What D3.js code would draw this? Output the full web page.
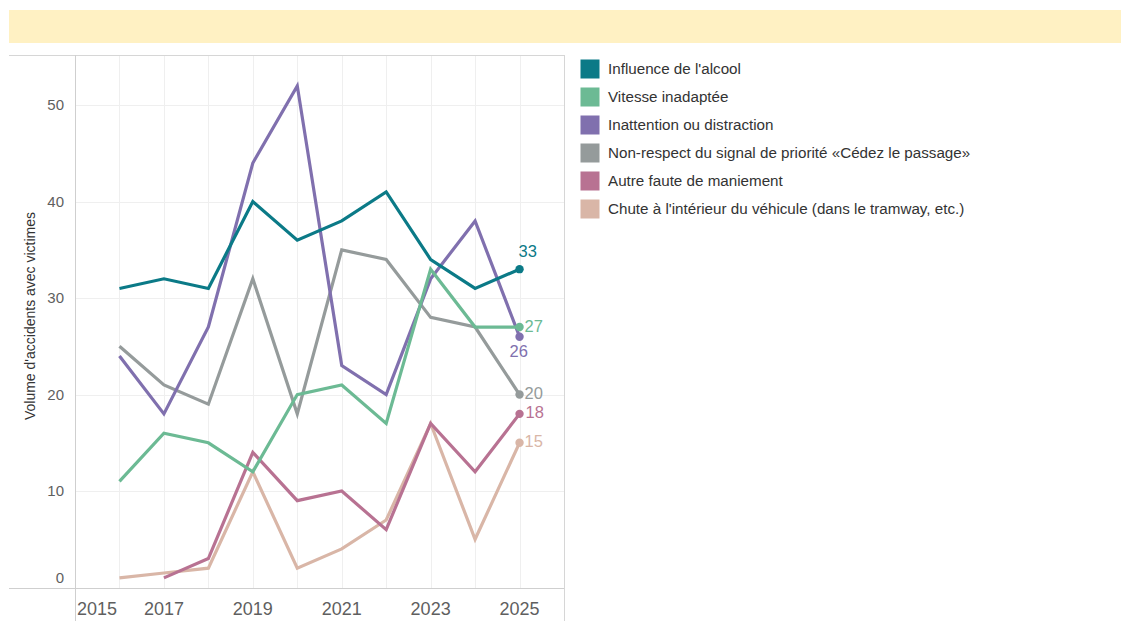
<!DOCTYPE html>
<html><head><meta charset="utf-8">
<script src="https://cdn.jsdelivr.net/npm/d3@7"></script>
<style>
html,body{margin:0;padding:0;background:#fff;}
svg{display:block;font-family:Arial,"Liberation Sans",sans-serif;}
</style></head>
<body>
<svg id="chart" width="1121" height="621"></svg>
<script>
const years = [2016,2017,2018,2019,2020,2021,2022,2023,2024,2025];
const seriesNames = [
  "Influence de l'alcool",
  "Vitesse inadaptée",
  "Inattention ou distraction",
  "Non-respect du signal de priorité «Cédez le passage»",
  "Autre faute de maniement",
  "Chute à l'intérieur du véhicule (dans le tramway, etc.)"
];
const seriesColors = ["#0b7a87","#6cba94","#8070ae","#959b9b","#b87292","#d9b6a7"];
const alcool      = [31,32,31,40,36,38,41,34,31,33];
const vitesse     = [11,16,15,12,20,21,17,33,27,27];
const inattention = [24,18,27,44,52,23,20,32,38,26];
const nonRespect  = [25,21,19,32,18,35,34,28,27,20];
const autreFaute  = [null,1,3,14,9,10,6,17,12,18];
const chute       = [1,1.5,2,12,2,4,7,17,5,15];
const yTicks = [0,10,20,30,40,50];
const xTickLabels = [2015,2017,2019,2021,2023,2025];
const yTitle = "Volume d'accidents avec victimes";

(function(){
const allValues = [alcool,vitesse,inattention,nonRespect,autreFaute,chute];
const svg = d3.select("#chart");

// banner
svg.append("rect").attr("x",9).attr("y",10).attr("width",1112).attr("height",33).attr("fill","#fff1c3");

const pLeft = 75, pRight = 564, pTop = 55, pBottom = 588;
const x = d3.scaleLinear().domain([2015,2026]).range([pLeft,pRight]);
const y = d3.scaleLinear().domain([0,55.2]).range([pBottom-0.5,pTop]);

// grid
const g = svg.append("g");
g.selectAll(".vg").data(d3.range(2016,2026)).join("line")
  .attr("x1",d=>Math.round(x(d))+0.5).attr("x2",d=>Math.round(x(d))+0.5)
  .attr("y1",pTop).attr("y2",pBottom).attr("stroke","#efefef").attr("stroke-width",1);
g.selectAll(".hg").data(yTicks.filter(d=>d>0)).join("line")
  .attr("x1",pLeft).attr("x2",pRight)
  .attr("y1",d=>Math.round(y(d))+0.5).attr("y2",d=>Math.round(y(d))+0.5)
  .attr("stroke","#efefef").attr("stroke-width",1);

// frame lines
g.append("line").attr("x1",9).attr("x2",pRight).attr("y1",pTop+0.5).attr("y2",pTop+0.5).attr("stroke","#d6d6d6");
g.append("line").attr("x1",9).attr("x2",pRight).attr("y1",pBottom+0.5).attr("y2",pBottom+0.5).attr("stroke","#cfcfcf");
g.append("line").attr("x1",pLeft+0.5).attr("x2",pLeft+0.5).attr("y1",pTop).attr("y2",621).attr("stroke","#cfcfcf");
g.append("line").attr("x1",pRight+0.5).attr("x2",pRight+0.5).attr("y1",pTop).attr("y2",621).attr("stroke","#d6d6d6");

// y axis labels
g.selectAll(".yl").data(yTicks).join("text")
  .attr("x",64).attr("y",d=> d===0 ? y(d)-10 : y(d))
  .attr("dy","0.35em").attr("text-anchor","end")
  .attr("font-size",15).attr("fill","#5f5f5f").text(d=>d);

// x axis labels
g.selectAll(".xl").data(xTickLabels).join("text")
  .attr("x",d=> d===2015 ? x(d)+2 : x(d))
  .attr("y",615)
  .attr("text-anchor",d=> d===2015 ? "start" : "middle")
  .attr("font-size",18).attr("fill","#5f5f5f").text(d=>d);

// y title
svg.append("text").attr("transform","translate(35,316) rotate(-90)")
  .attr("text-anchor","middle").attr("font-size",14).attr("fill","#333").text(yTitle);

// lines
const line = d3.line().x(d=>x(d.year)).y(d=>y(d.v));
const series = seriesNames.map((name,i)=>({name,color:seriesColors[i],
  values: years.map((yr,j)=>({year:yr,v:allValues[i][j]})).filter(d=>d.v!==null)}));

const drawOrder = [5,4,3,2,1,0];
drawOrder.forEach(i=>{
  const s = series[i];
  svg.append("path").datum(s.values).attr("d",line)
    .attr("fill","none").attr("stroke",s.color).attr("stroke-width",3.2)
    .attr("stroke-linejoin","miter").attr("stroke-linecap","butt");
  const last = s.values[s.values.length-1];
  svg.append("circle").attr("cx",x(last.year)).attr("cy",y(last.v)).attr("r",4.2).attr("fill",s.color);
});

// end labels
const labelOffsets = [
  {dx:-1, dy:-18},
  {dx:5, dy:-1},
  {dx:-10, dy:15},
  {dx:5, dy:-1},
  {dx:6, dy:-2},
  {dx:5, dy:-2}
];
series.forEach((s,i)=>{
  const last = s.values[s.values.length-1];
  const o = labelOffsets[i];
  svg.append("text").attr("x",x(last.year)+o.dx).attr("y",y(last.v)+o.dy)
    .attr("dy","0.35em").attr("text-anchor","start")
    .attr("font-size",16.5).attr("fill",s.color).text(last.v);
});

// legend
const lg = svg.append("g").attr("transform","translate(580,59)");
series.forEach((s,i)=>{
  const row = lg.append("g").attr("transform",`translate(0,${i*28})`);
  row.append("rect").attr("x",0.5).attr("y",0.5).attr("width",19).attr("height",19)
    .attr("fill",s.color);
  row.append("text").attr("x",28).attr("y",10).attr("dy","0.35em")
    .attr("font-size",15.2).attr("fill","#333").text(s.name);
});
})();
</script>
</body></html>
